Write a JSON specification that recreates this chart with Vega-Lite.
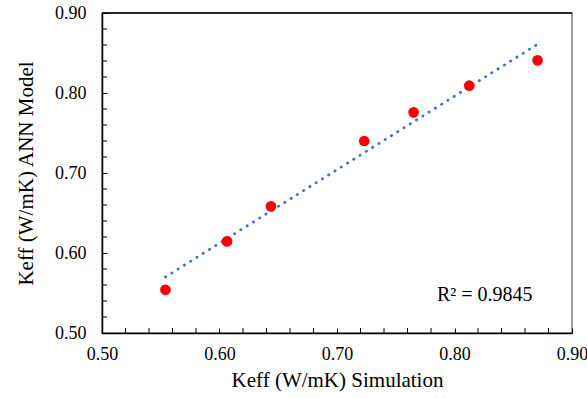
{
  "$schema": "https://vega.github.io/schema/vega-lite/v6.json",
  "width": 470,
  "height": 320,
  "autosize": "none",
  "padding": {"left": 102, "top": 13, "right": 15, "bottom": 65},
  "background": "white",
  "config": {
    "font": "Liberation Serif",
    "view": {"stroke": "#808080", "strokeWidth": 1.5},
    "axis": {
      "labelFont": "Liberation Serif",
      "titleFont": "Liberation Serif",
      "labelFontSize": 18,
      "titleFontSize": 21,
      "labelColor": "#000",
      "titleColor": "#000",
      "titleFontWeight": "normal",
      "domainColor": "#000",
      "domainWidth": 1.5,
      "tickColor": "#000",
      "tickWidth": 1,
      "grid": false,
      "labelOverlap": false
    }
  },
  "datasets": {
    "points": [
      {"sim": 0.554, "ann": 0.554},
      {"sim": 0.6064, "ann": 0.6145},
      {"sim": 0.6438, "ann": 0.6583},
      {"sim": 0.7232, "ann": 0.740},
      {"sim": 0.7652, "ann": 0.7758},
      {"sim": 0.8126, "ann": 0.8091},
      {"sim": 0.8707, "ann": 0.8408}
    ],
    "trend": [
      {"sim": 0.554, "ann": 0.570},
      {"sim": 0.8707, "ann": 0.861}
    ],
    "label": [
      {"sim": 0.785, "ann": 0.548, "text": "R² = 0.9845"}
    ],
    "minor": [
      {"t": 0.52}, {"t": 0.54}, {"t": 0.56}, {"t": 0.58},
      {"t": 0.62}, {"t": 0.64}, {"t": 0.66}, {"t": 0.68},
      {"t": 0.72}, {"t": 0.74}, {"t": 0.76}, {"t": 0.78},
      {"t": 0.82}, {"t": 0.84}, {"t": 0.86}, {"t": 0.88}
    ]
  },
  "layer": [
    {
      "data": {"name": "trend"},
      "mark": {"type": "line", "color": "#4472C4", "strokeWidth": 2.75, "strokeCap": "round", "strokeDash": [0.4, 7]},
      "encoding": {
        "x": {
          "field": "sim", "type": "quantitative",
          "scale": {"domain": [0.5, 0.9], "nice": false, "zero": false},
          "axis": {
            "title": "Keff (W/mK) Simulation",
            "values": [0.5, 0.6, 0.7, 0.8, 0.9],
            "format": ".2f",
            "tickSize": -5,
            "labelPadding": 17,
            "titlePadding": 6,
            "labelFlush": false,
            "labelOverlap": false
          }
        },
        "y": {
          "field": "ann", "type": "quantitative",
          "scale": {"domain": [0.5, 0.9], "nice": false, "zero": false},
          "axis": {
            "title": "Keff (W/mK) ANN Model",
            "values": [0.5, 0.6, 0.7, 0.8, 0.9],
            "format": ".2f",
            "tickSize": -5,
            "labelPadding": 21,
            "titlePadding": 18,
            "labelFlush": false,
            "labelOverlap": false
          }
        }
      }
    },
    {
      "data": {"name": "minor"},
      "mark": {"type": "rule", "color": "#000", "strokeWidth": 1},
      "encoding": {
        "x": {"field": "t", "type": "quantitative"},
        "y": {"datum": 0.5},
        "y2": {"datum": 0.50625}
      }
    },
    {
      "data": {"name": "minor"},
      "mark": {"type": "rule", "color": "#000", "strokeWidth": 1},
      "encoding": {
        "y": {"field": "t", "type": "quantitative"},
        "x": {"datum": 0.5},
        "x2": {"datum": 0.50426}
      }
    },
    {
      "data": {"name": "points"},
      "mark": {"type": "circle", "color": "#FF0000", "opacity": 1, "size": 115},
      "encoding": {
        "x": {"field": "sim", "type": "quantitative"},
        "y": {"field": "ann", "type": "quantitative"}
      }
    },
    {
      "data": {"name": "label"},
      "mark": {"type": "text", "align": "left", "baseline": "middle", "fontSize": 20, "font": "Liberation Serif", "color": "#000"},
      "encoding": {
        "x": {"field": "sim", "type": "quantitative"},
        "y": {"field": "ann", "type": "quantitative"},
        "text": {"field": "text"}
      }
    },
    {
      "data": {"values": [{"v": 0.9}]},
      "mark": {"type": "rule", "color": "#000", "strokeWidth": 1.5},
      "encoding": {"y": {"field": "v", "type": "quantitative"}}
    }
  ]
}
